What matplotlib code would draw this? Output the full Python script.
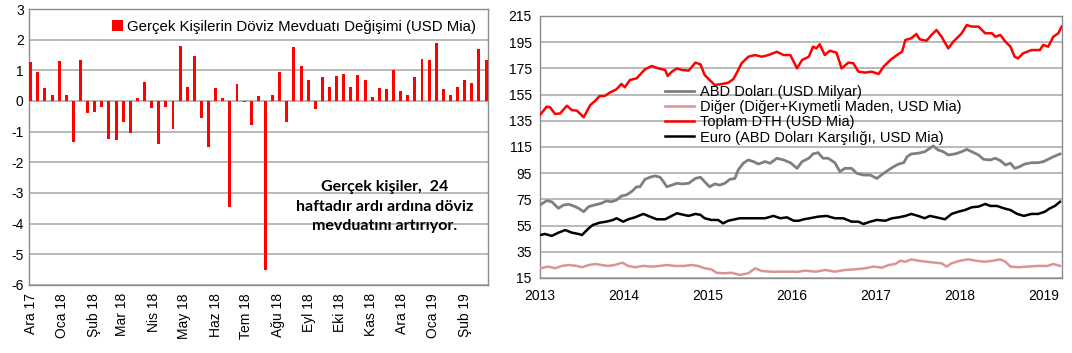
import numpy as np
import pandas as pd
import matplotlib
matplotlib.use("Agg")
import matplotlib.pyplot as plt

plt.rcParams['font.family'] = ['Liberation Sans', 'DejaVu Sans']
plt.rcParams['axes.unicode_minus'] = False

# --- sol grafik: haftalik degisim (USD milyar) ---
hafta_baslangic = '2017-12-01'
degisim = [1.26, 0.96, 0.42, 0.19, 1.30, 0.19, -1.35, 1.34, -0.40, -0.36,
           -0.20, -1.23, -1.27, -0.70, -1.05, 0.11, 0.62, -0.24, -1.40, -0.20,
           -0.93, 1.80, 0.46, 1.46, -0.55, -1.50, 0.42, 0.11, -3.47, 0.54,
           -0.05, -0.77, 0.15, -5.50, 0.19, 0.96, -0.70, 1.77, 1.15, 0.69,
           -0.27, 0.77, 0.46, 0.80, 0.88, 0.46, 0.85, 0.69, 0.12, 0.42,
           0.38, 1.00, 0.31, 0.19, 0.77, 1.38, 1.34, 1.88, 0.38, 0.19,
           0.46, 0.69, 0.57, 1.69, 1.34]
ay_etiketleri = ['Ara 17', 'Oca 18', 'Şub 18', 'Mar 18', 'Nis 18', 'May 18',
                 'Haz 18', 'Tem 18', 'Ağu 18', 'Eyl 18', 'Eki 18', 'Kas 18',
                 'Ara 18', 'Oca 19', 'Şub 19']

# --- sag grafik: DTH kirilimi (yil, USD milyar) ---
toplam_t = [2013.0, 2013.08, 2013.12, 2013.18, 2013.24, 2013.32, 2013.38, 2013.44, 2013.52, 2013.6,
            2013.66, 2013.71, 2013.77, 2013.83, 2013.91, 2013.97, 2014.01, 2014.07, 2014.15, 2014.25,
            2014.33, 2014.41, 2014.49, 2014.52, 2014.57, 2014.63, 2014.69, 2014.77, 2014.85, 2014.91,
            2014.96, 2015.02, 2015.08, 2015.16, 2015.24, 2015.30, 2015.34, 2015.40, 2015.48, 2015.56,
            2015.64, 2015.72, 2015.82, 2015.90, 2015.98, 2016.06, 2016.12, 2016.2, 2016.25, 2016.29,
            2016.33, 2016.39, 2016.45, 2016.53, 2016.59, 2016.67, 2016.73, 2016.79, 2016.87, 2016.95,
            2017.03, 2017.09, 2017.17, 2017.25, 2017.31, 2017.35, 2017.42, 2017.48, 2017.52, 2017.60,
            2017.66, 2017.72, 2017.78, 2017.86, 2017.92, 2017.98, 2018.02, 2018.08, 2018.14, 2018.22,
            2018.30, 2018.38, 2018.42, 2018.48, 2018.54, 2018.6, 2018.65, 2018.69, 2018.75, 2018.85,
            2018.95, 2018.99, 2019.05, 2019.11, 2019.17, 2019.21]
toplam_v = [139.4, 145.8, 145.3, 140.2, 140.6, 146.5, 143.2, 142.7, 137.7, 147.1,
            150.4, 153.9, 153.9, 156.5, 159.0, 163.1, 160.6, 166.1, 167.4, 174.3,
            176.8, 175.0, 173.8, 169.2, 172.5, 175.0, 173.8, 173.3, 179.4, 178.1,
            170.0, 166.1, 162.3, 163.0, 164.0, 166.7, 171.3, 178.9, 183.9, 185.2,
            183.9, 185.2, 187.7, 185.2, 185.2, 175.0, 181.4, 183.9, 191.6, 190.3,
            193.4, 185.2, 188.5, 187.0, 175.0, 179.4, 178.9, 172.5, 171.8, 172.5,
            170.7, 176.3, 181.4, 185.2, 187.7, 196.7, 198.0, 201.3, 197.2, 196.1,
            200.5, 204.3, 199.2, 190.3, 195.4, 199.2, 201.8, 208.1, 206.9, 206.9,
            201.8, 201.8, 199.2, 200.5, 195.4, 191.6, 183.9, 182.6, 186.5, 189.0,
            189.0, 192.9, 191.6, 199.2, 201.8, 206.9]

dolar_t = [2013.0, 2013.08, 2013.14, 2013.22, 2013.28, 2013.34, 2013.40, 2013.46, 2013.52, 2013.58,
           2013.65, 2013.73, 2013.79, 2013.85, 2013.91, 2013.97, 2014.03, 2014.09, 2014.15, 2014.19,
           2014.25, 2014.31, 2014.37, 2014.43, 2014.47, 2014.51, 2014.57, 2014.63, 2014.69, 2014.77,
           2014.85, 2014.91, 2014.96, 2015.02, 2015.08, 2015.14, 2015.20, 2015.26, 2015.32, 2015.36,
           2015.42, 2015.48, 2015.54, 2015.60, 2015.68, 2015.74, 2015.82, 2015.90, 2015.98, 2016.06,
           2016.12, 2016.2, 2016.25, 2016.31, 2016.37, 2016.43, 2016.51, 2016.57, 2016.63, 2016.71,
           2016.77, 2016.85, 2016.93, 2017.01, 2017.09, 2017.15, 2017.21, 2017.27, 2017.33, 2017.37,
           2017.42, 2017.50, 2017.58, 2017.64, 2017.68, 2017.74, 2017.80, 2017.86, 2017.94, 2018.02,
           2018.08, 2018.14, 2018.22, 2018.28, 2018.36, 2018.42, 2018.48, 2018.54, 2018.6, 2018.65,
           2018.71, 2018.77, 2018.85, 2018.93, 2018.99, 2019.05, 2019.11, 2019.19]
dolar_v = [70.7, 74.0, 73.2, 68.2, 70.7, 71.3, 70.0, 68.2, 65.6, 69.5,
           70.7, 72.0, 73.8, 73.2, 74.5, 77.6, 78.4, 80.9, 84.6, 84.6,
           90.3, 91.9, 92.9, 91.9, 88.5, 84.6, 85.9, 87.3, 86.8, 87.3,
           91.0, 91.9, 88.5, 84.6, 86.8, 85.9, 87.3, 90.3, 91.0, 97.5,
           102.6, 105.1, 103.9, 102.0, 103.9, 102.6, 106.4, 105.1, 103.0, 98.7,
           103.8, 106.4, 109.7, 110.7, 106.4, 106.4, 103.0, 96.2, 98.7, 98.7,
           94.9, 93.6, 93.6, 91.0, 94.9, 97.5, 100.0, 102.0, 103.0, 107.6,
           109.7, 110.2, 111.4, 114.0, 115.8, 112.7, 111.4, 108.9, 109.7, 111.4,
           113.2, 111.4, 108.9, 105.6, 105.1, 106.4, 104.6, 101.3, 102.6, 98.7,
           100.0, 102.0, 103.0, 103.0, 103.8, 105.6, 107.6, 109.7]

euro_t = [2013.0, 2013.06, 2013.14, 2013.22, 2013.30, 2013.38, 2013.46, 2013.5, 2013.58, 2013.63,
          2013.71, 2013.79, 2013.87, 2013.91, 2013.99, 2014.05, 2014.13, 2014.23, 2014.31, 2014.39,
          2014.49, 2014.55, 2014.63, 2014.71, 2014.77, 2014.85, 2014.91, 2014.96, 2015.04, 2015.12,
          2015.18, 2015.24, 2015.32, 2015.38, 2015.48, 2015.56, 2015.68, 2015.78, 2015.86, 2015.94,
          2016.02, 2016.08, 2016.14, 2016.21, 2016.31, 2016.41, 2016.51, 2016.61, 2016.71, 2016.79,
          2016.85, 2016.93, 2017.01, 2017.11, 2017.19, 2017.27, 2017.35, 2017.42, 2017.50, 2017.58,
          2017.64, 2017.72, 2017.82, 2017.90, 2017.98, 2018.06, 2018.14, 2018.22, 2018.30, 2018.36,
          2018.44, 2018.52, 2018.60, 2018.68, 2018.76, 2018.85, 2018.93, 2019.01, 2019.07, 2019.13,
          2019.19]
euro_v = [47.8, 48.6, 47.1, 49.6, 51.6, 49.6, 48.6, 47.8, 52.9, 55.5,
          57.2, 58.0, 59.3, 60.6, 58.0, 59.8, 61.3, 63.9, 61.8, 59.8,
          59.8, 61.8, 64.4, 63.2, 62.4, 63.9, 63.2, 60.6, 59.3, 59.3,
          56.7, 58.7, 59.8, 60.6, 60.6, 60.6, 60.6, 62.4, 60.6, 61.3,
          58.7, 58.7, 59.8, 60.6, 61.8, 62.4, 60.6, 60.6, 58.0, 58.0,
          56.2, 58.0, 59.3, 58.7, 60.6, 61.3, 62.4, 63.9, 62.4, 60.6,
          62.4, 61.3, 59.8, 63.9, 65.6, 66.9, 69.0, 69.5, 71.5, 70.0,
          70.0, 68.2, 66.9, 63.9, 62.4, 63.9, 63.9, 65.6, 68.2, 70.0,
          73.2]

diger_t = [2013.0, 2013.10, 2013.18, 2013.26, 2013.34, 2013.44, 2013.50, 2013.58, 2013.66, 2013.73,
           2013.81, 2013.89, 2013.98, 2014.05, 2014.13, 2014.23, 2014.33, 2014.43, 2014.51, 2014.61,
           2014.71, 2014.81, 2014.88, 2014.96, 2015.04, 2015.10, 2015.18, 2015.28, 2015.38, 2015.48,
           2015.56, 2015.64, 2015.76, 2015.88, 2016.0, 2016.06, 2016.16, 2016.28, 2016.40, 2016.51,
           2016.63, 2016.75, 2016.87, 2016.97, 2017.07, 2017.15, 2017.23, 2017.29, 2017.35, 2017.42,
           2017.50, 2017.60, 2017.70, 2017.78, 2017.84, 2017.90, 2018.0, 2018.10, 2018.19, 2018.29,
           2018.39, 2018.48, 2018.54, 2018.60, 2018.70, 2018.80, 2018.92, 2019.04, 2019.11, 2019.19]
diger_v = [22.4, 23.7, 22.4, 24.2, 24.9, 24.2, 23.2, 24.9, 25.7, 24.9,
           24.2, 24.9, 26.7, 24.2, 23.2, 24.2, 23.7, 24.2, 24.9, 24.2,
           24.2, 24.9, 24.2, 22.4, 21.6, 19.0, 18.6, 19.0, 17.3, 18.6,
           22.4, 20.3, 19.8, 19.8, 19.8, 19.7, 20.6, 19.8, 21.1, 19.8,
           21.1, 21.6, 22.4, 23.7, 22.9, 24.9, 25.7, 28.2, 27.4, 29.2,
           28.2, 27.4, 26.7, 26.2, 23.7, 26.2, 28.2, 29.2, 28.2, 27.4,
           28.2, 29.2, 27.4, 23.7, 23.2, 23.7, 24.2, 24.2, 25.7, 24.2]

GRID = '#B4B4B4'
FRAME = '#8C8C8C'

fig = plt.figure(figsize=(10.72, 3.53), dpi=100)
ax1 = fig.add_axes([0.0273, 0.193, 0.4277, 0.7815])
ax2 = fig.add_axes([0.5037, 0.2125, 0.487, 0.7422])

# sol grafik
tarihler = pd.date_range(hafta_baslangic, periods=len(degisim), freq='7D')
ax1.bar(tarihler, degisim, width=2.9, color='#FF0000', zorder=3,
        label='Gerçek Kişilerin Döviz Mevduatı Değişimi (USD Mia)')
ax1.set_ylim(-6, 3)
ax1.set_yticks(range(-6, 4))
ax1.set_xlim(tarihler[0] - pd.Timedelta(days=1.4), tarihler[-1] + pd.Timedelta(days=1.7))
ay_baslari = pd.date_range('2017-12-01', periods=len(ay_etiketleri), freq='MS')
ax1.set_xticks(ay_baslari)
ax1.set_xticklabels(ay_etiketleri, rotation=90, fontsize=10)
ax1.tick_params(axis='both', length=0, labelsize=10, pad=4)
ax1.tick_params(axis='x', pad=6)
ax1.yaxis.grid(True, color=GRID, linewidth=1.3, zorder=0)
ax1.set_axisbelow(True)
for s in ax1.spines.values():
    s.set_color(FRAME)
    s.set_linewidth(1.0)
ax1.legend(loc='center left', bbox_to_anchor=(0.165, 0.935), frameon=False,
           handlelength=0.7, handleheight=0.7, handletextpad=0.3, borderpad=0,
           fontsize=10.8)
ax1.text(0.775, 0.283, 'Gerçek kişiler,  24\nhaftadır ardı ardına döviz\nmevduatını artırıyor.',
         transform=ax1.transAxes, ha='center', va='center', fontsize=11.5,
         fontweight='bold', family=['Lato', 'DejaVu Sans'], linespacing=1.5, zorder=5)

# sag grafik
ax2.plot(dolar_t, dolar_v, color='#7F7F7F', linewidth=2.0, label='ABD Doları (USD Milyar)', zorder=3)
ax2.plot(diger_t, diger_v, color='#D99594', linewidth=1.8, label='Diğer (Diğer+Kıymetli Maden, USD Mia)', zorder=3)
ax2.plot(toplam_t, toplam_v, color='#FF0000', linewidth=1.8, label='Toplam DTH (USD Mia)', zorder=3)
ax2.plot(euro_t, euro_v, color='#000000', linewidth=1.8, label='Euro (ABD Doları Karşılığı, USD Mia)', zorder=3)
ax2.set_xlim(2013.0, 2019.214)
ax2.set_ylim(15, 215)
ax2.set_yticks(range(15, 216, 20))
ax2.set_xticks(range(2013, 2020))
ax2.tick_params(axis='both', length=0, labelsize=10)
ax2.tick_params(axis='x', pad=8)
ax2.tick_params(axis='y', pad=6)
ax2.yaxis.grid(True, color=GRID, linewidth=1.3, zorder=0)
ax2.set_axisbelow(True)
for s in ax2.spines.values():
    s.set_color(FRAME)
    s.set_linewidth(1.0)
leg = ax2.legend(loc='center left', bbox_to_anchor=(0.226, 0.623), frameon=False,
                 handlelength=2.0, handletextpad=0.35, borderpad=0, labelspacing=0.08,
                 fontsize=10.5)
leg.set_zorder(6)

fig.savefig('out.png', dpi=100)
